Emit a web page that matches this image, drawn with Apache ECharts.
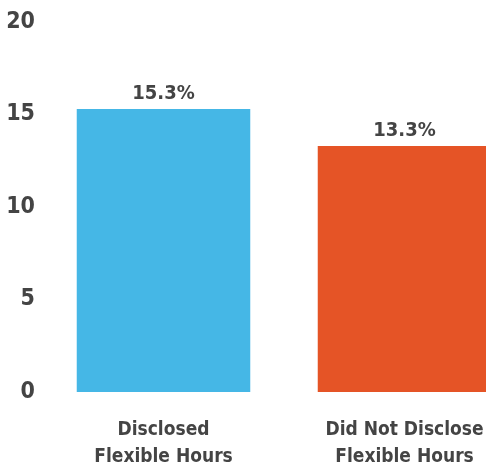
<!DOCTYPE html>
<html><head><meta charset="utf-8">
<script src="https://cdn.jsdelivr.net/npm/echarts@6/dist/echarts.min.js"></script>
<style>html,body{margin:0;padding:0;background:#fff}#c{width:486px;height:466px}</style>
</head><body><div id="c"></div>
<script>
var categories = ['Disclosed\nFlexible Hours', 'Did Not Disclose\nFlexible Hours'];
var values = [15.3, 13.3];
var colors = ['#45B7E6', '#E55426'];
var yTicks = [0, 5, 10, 15, 20];
var FONT = '"DejaVu Sans Condensed", sans-serif';
var chart = echarts.init(document.getElementById('c'));
chart.setOption({
  animation: false,
  grid: { left: 43, width: 482, top: 22, height: 370, containLabel: false, outerBoundsMode: 'none' },
  xAxis: {
    type: 'category', data: categories,
    axisLine: { show: false }, axisTick: { show: false },
    axisLabel: { interval: 0, hideOverlap: false, color: '#444', fontFamily: FONT, fontWeight: 'bold', fontSize: 19, lineHeight: 27, margin: 25 }
  },
  yAxis: {
    type: 'value', min: 0, max: 20, interval: 5,
    axisLine: { show: false }, axisTick: { show: false }, splitLine: { show: false },
    axisLabel: { color: '#444', fontFamily: FONT, fontWeight: 'bold', fontSize: 23, margin: 8, align: 'right',
      formatter: function (v) { return yTicks.indexOf(v) >= 0 ? String(v) : ''; } }
  },
  series: [{
    type: 'bar', barCategoryGap: '28%',
    data: values.map(function (v, i) { return { value: v, itemStyle: { color: colors[i] } }; }),
    label: { show: true, position: 'top', distance: 5, color: '#444', fontFamily: FONT, fontWeight: 'bold', fontSize: 20,
      formatter: function (p) { return p.value.toFixed(1) + '%'; } }
  }]
});
</script></body></html>
